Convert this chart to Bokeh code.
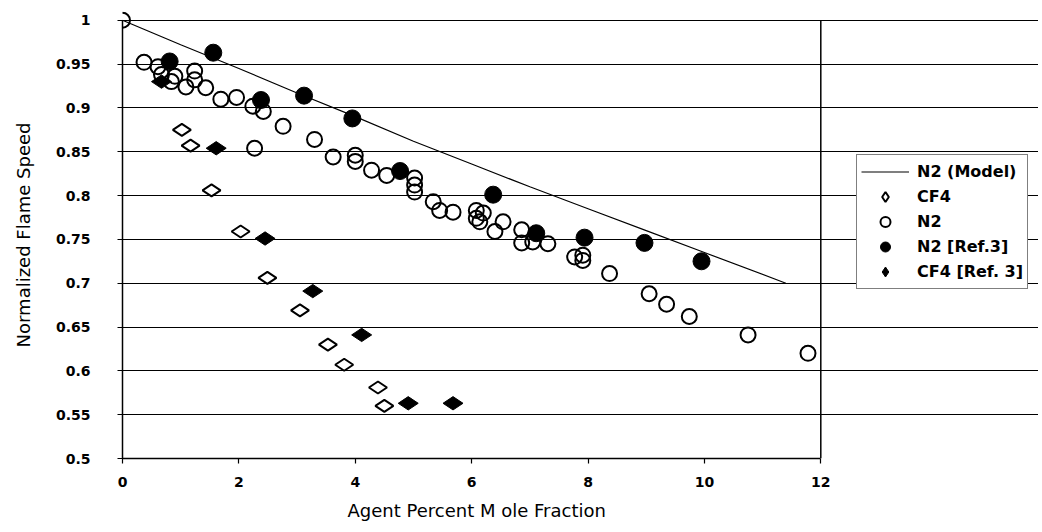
from bokeh.plotting import figure
from bokeh.models import FixedTicker, PrintfTickFormatter, Range1d, Legend, LegendItem, Title
from bokeh.embed import file_html
from bokeh.resources import INLINE
import math

# ---- data ----
model_x = [0, 1, 2, 3, 4, 5, 6, 7, 8, 9, 10, 11.4]
model_y = [1.0, 0.972, 0.945, 0.917, 0.890, 0.862, 0.836, 0.810, 0.785, 0.760, 0.735, 0.700]

cf4_x = [1.02, 1.17, 1.53, 2.03, 2.49, 3.05, 3.53, 3.81, 4.39, 4.50]
cf4_y = [0.875, 0.857, 0.806, 0.759, 0.706, 0.669, 0.630, 0.607, 0.581, 0.560]

n2_x = [0.0, 0.37, 0.61, 0.67, 0.90, 0.84, 1.09, 1.24, 1.24, 1.43, 1.69, 1.96, 2.24, 2.42,
        2.76, 3.30, 2.27, 3.62, 4.00, 4.00, 4.28, 4.54, 5.02, 5.02, 5.02, 5.34, 5.45, 5.68,
        6.08, 6.08, 6.14, 6.20, 6.40, 6.54, 6.86, 6.86, 7.05, 7.31, 7.77, 7.91, 7.91, 8.37,
        9.05, 9.35, 9.74, 10.75, 11.78]
n2_y = [1.0, 0.952, 0.947, 0.938, 0.936, 0.930, 0.924, 0.942, 0.932, 0.923, 0.910, 0.912,
        0.902, 0.896, 0.879, 0.864, 0.854, 0.844, 0.846, 0.839, 0.829, 0.823, 0.820, 0.812,
        0.804, 0.793, 0.783, 0.781, 0.783, 0.774, 0.770, 0.780, 0.759, 0.770, 0.761, 0.746,
        0.747, 0.745, 0.730, 0.732, 0.726, 0.711, 0.688, 0.676, 0.662, 0.641, 0.620]

n2ref_x = [0.81, 1.56, 2.38, 3.12, 3.95, 4.77, 6.37, 7.11, 7.94, 8.97, 9.95]
n2ref_y = [0.953, 0.963, 0.909, 0.914, 0.888, 0.828, 0.801, 0.757, 0.752, 0.746, 0.725]

cf4ref_x = [0.67, 1.61, 2.45, 3.27, 4.11, 4.91, 5.68]
cf4ref_y = [0.930, 0.854, 0.751, 0.691, 0.641, 0.563, 0.563]

x_ticks = [0, 2, 4, 6, 8, 10, 12]
y_ticks = [0.5, 0.55, 0.6, 0.65, 0.7, 0.75, 0.8, 0.85, 0.9, 0.95, 1.0]

series_labels = ["N2 (Model)", "CF4", "N2", "N2 [Ref.3]", "CF4 [Ref. 3]"]
x_title = "Agent Percent M ole Fraction"
y_title = "Normalized Flame Speed"

# ---- layout constants ----
W, H = 1038, 528
LEFT = 122
PLOT_W = 698.3          # pixel width of the 0..12 data span
x_lo, x_hi = x_ticks[0], x_ticks[-1]
y_lo, y_hi = y_ticks[0], y_ticks[-1]
x_end = x_lo + (x_hi - x_lo) * (W - LEFT) / PLOT_W

p = figure(width=W, height=H, output_backend="svg", toolbar_location=None,
           x_range=Range1d(x_lo, x_end), y_range=Range1d(y_lo, y_hi + 0.01),
           min_border_left=LEFT, min_border_right=0, min_border_top=11, min_border_bottom=0)
p.background_fill_color = "white"
p.border_fill_color = "white"
p.outline_line_color = None

p.xgrid.grid_line_color = None
p.ygrid.grid_line_color = "black"
p.ygrid.grid_line_width = 1.2
p.ygrid.ticker = FixedTicker(ticks=y_ticks)
p.ygrid.bounds = (x_lo, x_hi)

p.xaxis.ticker = FixedTicker(ticks=x_ticks)
p.yaxis.ticker = FixedTicker(ticks=y_ticks)
p.yaxis.formatter = PrintfTickFormatter(format="%g")
p.xaxis.formatter = PrintfTickFormatter(format="%g")
p.xaxis.bounds = (x_lo, x_hi)
p.yaxis.bounds = (y_lo, y_hi)

for ax in (p.xaxis[0], p.yaxis[0]):
    ax.axis_line_color = "black"
    ax.axis_line_width = 1.5
    ax.major_tick_line_color = "black"
    ax.major_tick_line_width = 1.2
    ax.minor_tick_line_color = None
    ax.major_label_text_font = "DejaVu Sans"
    ax.major_label_text_font_style = "bold"
    ax.major_label_text_font_size = "14px"
    ax.major_label_text_color = "black"
    ax.axis_label_text_font = "DejaVu Sans"
    ax.axis_label_text_font_style = "normal"
    ax.axis_label_text_font_size = "18px"
    ax.axis_label_text_color = "black"

p.yaxis.major_tick_in = 5
p.yaxis.major_tick_out = 5
p.yaxis.major_label_standoff = 27
p.yaxis.axis_label = y_title
p.yaxis.axis_label_standoff = 19

p.xaxis.major_tick_in = 0
p.xaxis.major_tick_out = 5
p.xaxis.major_label_standoff = 13

# x-axis title, centred under the 0..12 span (not the whole frame)
xt = Title(text=x_title, align="left", offset=225, standoff=16,
           text_font="DejaVu Sans", text_font_size="18px", text_font_style="normal",
           text_color="black")
p.add_layout(xt, "below")

# right border of the plot area
p.segment(x0=[x_hi], y0=[y_lo], x1=[x_hi], y1=[y_hi], line_color="black", line_width=1.5)

r_model = p.line(model_x, model_y, line_color="black", line_width=1.2)
r_cf4 = p.scatter(cf4_x, cf4_y, marker="diamond", size=18, angle=math.pi / 2,
                  fill_color="white", line_color="black", line_width=2)
r_n2 = p.scatter(n2_x, n2_y, marker="circle", size=15,
                 fill_color="white", fill_alpha=0.0, line_color="black", line_width=2)
r_n2ref = p.scatter(n2ref_x, n2ref_y, marker="circle", size=17,
                    fill_color="black", line_color="black", line_width=1)
r_cf4ref = p.scatter(cf4ref_x, cf4ref_y, marker="diamond", size=20, angle=math.pi / 2,
                     fill_color="black", line_color="black", line_width=1)

legend = Legend(items=[
    LegendItem(label=series_labels[0], renderers=[r_model]),
    LegendItem(label=series_labels[1], renderers=[r_cf4]),
    LegendItem(label=series_labels[2], renderers=[r_n2]),
    LegendItem(label=series_labels[3], renderers=[r_n2ref]),
    LegendItem(label=series_labels[4], renderers=[r_cf4ref]),
], location=(734, 169))
legend.border_line_color = "black"
legend.border_line_width = 1.2
legend.background_fill_color = "white"
legend.background_fill_alpha = 1.0
legend.label_text_font = "DejaVu Sans"
legend.label_text_font_style = "bold"
legend.label_text_font_size = "16px"
legend.label_text_color = "black"
legend.glyph_width = 48
legend.glyph_height = 25
legend.label_height = 25
legend.spacing = 0
legend.padding = 4
legend.margin = 0
legend.label_standoff = 8
p.add_layout(legend, "center")

open("out.html", "w").write(file_html(p, INLINE))
